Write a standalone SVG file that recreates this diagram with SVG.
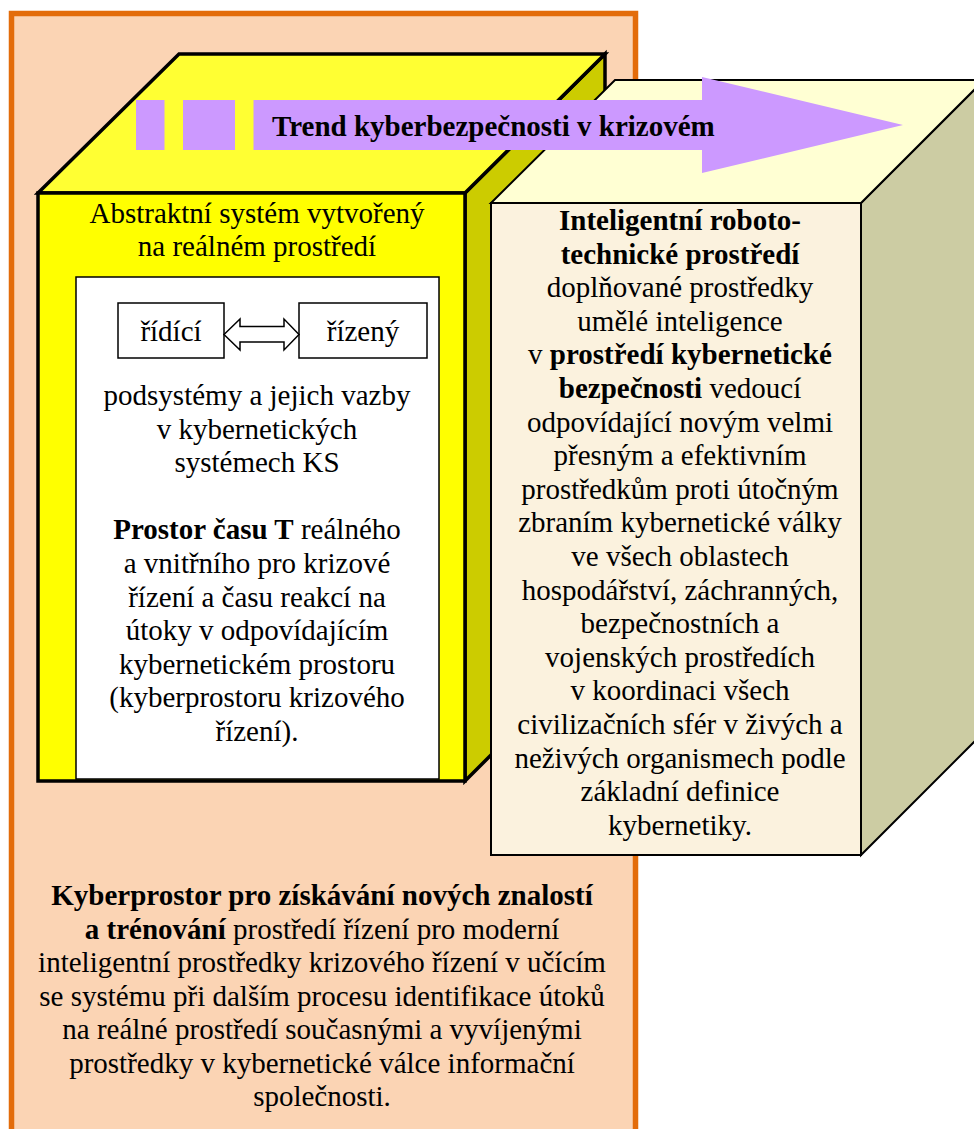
<svg xmlns="http://www.w3.org/2000/svg" width="974" height="1129" viewBox="0 0 974 1129">
<style>
text{font-family:"Liberation Serif","Times New Roman",serif;font-size:29px;fill:#000;text-anchor:middle}
.b{font-weight:bold}
.edge{stroke:#000;stroke-width:3.5;stroke-linejoin:miter}
.thin{stroke:#000;stroke-width:2;stroke-linejoin:miter}
.purple{fill:#CC99FF}
</style>
<rect width="974" height="1129" fill="#FFFFFF"/>
<g id="outer-box">
<rect x="11.5" y="13.5" width="624" height="1130" fill="#FBD4B4" stroke="#E36C0A" stroke-width="5.5"/>
<g id="outer-text">
<text x="322" y="905" class="b">Kyberprostor pro získávání nových znalostí</text>
<text x="322" y="938.5"><tspan class="b">a trénování</tspan> prostředí řízení pro moderní</text>
<text x="322" y="972">inteligentní prostředky krizového řízení v učícím</text>
<text x="322" y="1005.5">se systému při dalším procesu identifikace útoků</text>
<text x="322" y="1039">na reálné prostředí současnými a vyvíjenými</text>
<text x="322" y="1072.5">prostředky v kybernetické válce informační</text>
<text x="322" y="1106">společnosti.</text>
</g>
</g>
<g id="yellow-cube">
<polygon points="465,193 605,54 605,641 465,781" fill="#CCCC00" class="edge"/>
<polygon points="38,193 179,54 605,54 465,193" fill="#FFFF33" class="edge"/>
<rect x="38" y="193" width="427" height="588" fill="#FFFF00" class="edge"/>
<text x="257" y="223">Abstraktní systém vytvořený</text>
<text x="257" y="256">na reálném prostředí</text>
</g>
<g id="inner-box">
<rect x="76" y="277" width="363" height="502" fill="#FFFFFF" stroke="#000" stroke-width="1.5"/>
<text x="257" y="405">podsystémy a jejich vazby</text>
<text x="257" y="438.6">v kybernetických</text>
<text x="257" y="472.2">systémech KS</text>
<text x="257" y="539.4"><tspan class="b">Prostor času T</tspan> reálného</text>
<text x="257" y="573">a vnitřního pro krizové</text>
<text x="257" y="606.6">řízení a času reakcí na</text>
<text x="257" y="640.2">útoky v odpovídajícím</text>
<text x="257" y="673.8">kybernetickém prostoru</text>
<text x="257" y="707.4">(kyberprostoru krizového</text>
<text x="257" y="741">řízení).</text>
</g>
<g id="ridici">
<rect x="118" y="303" width="106" height="55" fill="#FFFFFF" stroke="#000" stroke-width="1.5"/>
<text x="171" y="341">řídící</text>
</g>
<g id="rizeny">
<rect x="299" y="303" width="128" height="55" fill="#FFFFFF" stroke="#000" stroke-width="1.5"/>
<text x="363" y="341">řízený</text>
</g>
<g id="connectors">
<polygon points="224,334.5 240,319 240,326.5 284,326.5 284,319 299,334.5 284,350 284,342 240,342 240,350" fill="#FFFFFF" stroke="#000" stroke-width="1.5" stroke-linejoin="miter"/>
</g>
<g id="beige-cube">
<polygon points="861,203 984,80 984,732 861,855" fill="#CCCCA3" class="thin"/>
<polygon points="491,203 615,80 984,80 861,203" fill="#FFFFD3" class="thin"/>
<rect x="491" y="203" width="370" height="652" fill="#FBF2DE" class="thin"/>
<text x="680" y="230" class="b">Inteligentní roboto-</text>
<text x="680" y="263.6" class="b">technické prostředí</text>
<text x="680" y="297.2">doplňované prostředky</text>
<text x="680" y="330.8">umělé inteligence</text>
<text x="680" y="364.4">v <tspan class="b">prostředí kybernetické</tspan></text>
<text x="680" y="398"><tspan class="b">bezpečnosti</tspan> vedoucí</text>
<text x="680" y="431.6">odpovídající novým velmi</text>
<text x="680" y="465.2">přesným a efektivním</text>
<text x="680" y="498.8">prostředkům proti útočným</text>
<text x="680" y="532.4">zbraním kybernetické války</text>
<text x="680" y="566">ve všech oblastech</text>
<text x="680" y="599.6">hospodářství, záchranných,</text>
<text x="680" y="633.2">bezpečnostních a</text>
<text x="680" y="666.8">vojenských prostředích</text>
<text x="680" y="700.4">v koordinaci všech</text>
<text x="680" y="734">civilizačních sfér v živých a</text>
<text x="680" y="767.6">neživých organismech podle</text>
<text x="680" y="801.2">základní definice</text>
<text x="680" y="834.8">kybernetiky.</text>
</g>
<g id="trend-arrow">
<rect x="136" y="100" width="28.5" height="50" class="purple"/>
<rect x="183" y="100" width="52" height="50" class="purple"/>
<polygon points="253.5,100 702,100 702,77 903,125 702,173 702,150 253.5,150" class="purple"/>
<text x="272" y="136" class="b" style="text-anchor:start">Trend kyberbezpečnosti v krizovém</text>
</g>
</svg>
